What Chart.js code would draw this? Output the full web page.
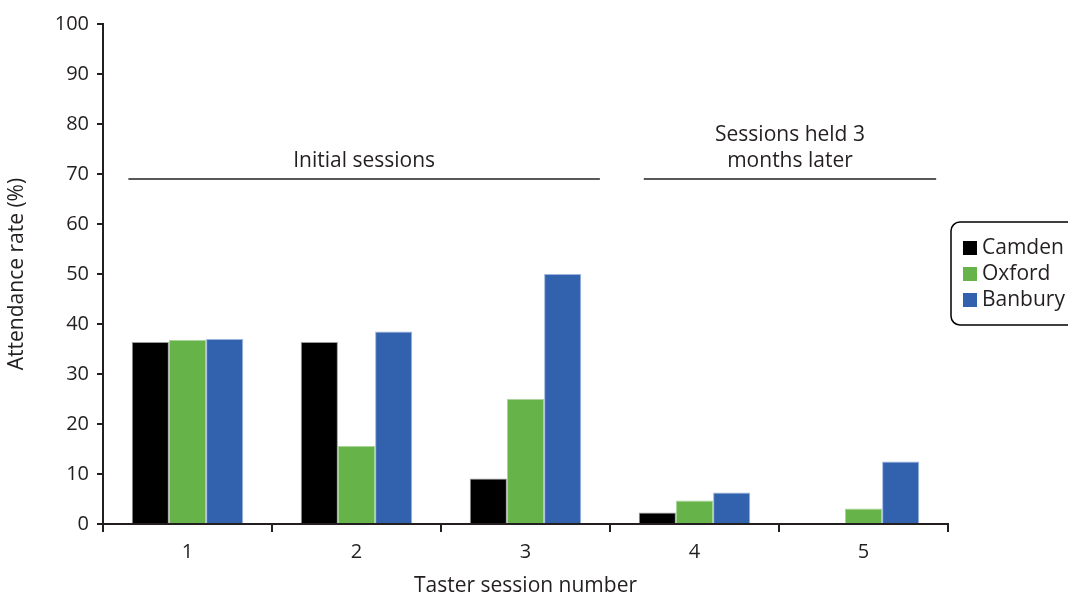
<!DOCTYPE html>
<html>
<head>
<meta charset="utf-8">
<script src="https://cdn.jsdelivr.net/npm/chart.js@4"></script>
<style>
  html, body { margin: 0; padding: 0; background: #fff; }
  #wrap { width: 1068px; height: 594px; position: relative; }
</style>
</head>
<body>
<div id="wrap"><canvas id="attendanceChart" width="1068" height="594"></canvas></div>
<script>
const sessions = ["1", "2", "3", "4", "5"];
const camden = [36.4, 36.4, 9.1, 2.3, 0];
const oxford = [36.8, 15.6, 25.0, 4.7, 3.1];
const banbury = [37.0, 38.5, 50.0, 6.3, 12.5];
const yTicks = [0, 10, 20, 30, 40, 50, 60, 70, 80, 90, 100];

// group brackets: [from index, to index, label lines]
const groups = [
    { from: -0.35, to: 2.44, label: ["Initial sessions"] },
    { from: 2.70, to: 4.43, label: ["Sessions held 3", "months later"] }
];
const groupLineValue = 69;

const inkColor = "#231f20";
const fontFamily = "'Open Sans', 'Noto Sans', sans-serif";

const groupPlugin = {
    id: "groups",
    afterDatasetsDraw(chart) {
        const ctx = chart.ctx;
        const x = chart.scales.x;
        const y = chart.scales.y;
        const step = x.getPixelForValue(1) - x.getPixelForValue(0);
        const base = x.getPixelForValue(0);
        const lineY = y.getPixelForValue(groupLineValue);
        ctx.save();
        ctx.strokeStyle = inkColor;
        ctx.fillStyle = inkColor;
        ctx.lineWidth = 1.5;
        ctx.font = "21px " + fontFamily;
        ctx.textAlign = "center";
        ctx.textBaseline = "alphabetic";
        groups.forEach((g) => {
            const x1 = base + g.from * step;
            const x2 = base + g.to * step;
            ctx.beginPath();
            ctx.moveTo(x1, lineY);
            ctx.lineTo(x2, lineY);
            ctx.stroke();
            const cx = (x1 + x2) / 2;
            const n = g.label.length;
            g.label.forEach((line, i) => {
                ctx.fillText(line, cx, lineY - 12 - (n - 1 - i) * 26);
            });
        });
        ctx.restore();
    }
};

const legendPlugin = {
    id: "boxLegend",
    afterDraw(chart) {
        const ctx = chart.ctx;
        const left = chart.chartArea.right + 3;
        const top = 222;
        ctx.save();
        ctx.strokeStyle = "#000";
        ctx.lineWidth = 1.5;
        const w = 140, h = 103, r = 9;
        ctx.beginPath();
        ctx.roundRect(left, top, w, h, r);
        ctx.stroke();
        ctx.font = "21px " + fontFamily;
        ctx.textBaseline = "middle";
        ctx.textAlign = "left";
        chart.data.datasets.forEach((ds, i) => {
            const rowY = top + 26 + i * 26;
            ctx.fillStyle = ds.backgroundColor;
            ctx.fillRect(left + 12, rowY - 7, 14, 14);
            ctx.fillStyle = inkColor;
            ctx.fillText(ds.label, left + 31, rowY);
        });
        ctx.restore();
    }
};

const ctx = document.getElementById("attendanceChart").getContext("2d");
new Chart(ctx, {
    type: "bar",
    data: {
        labels: sessions,
        datasets: [
            { label: "Camden", data: camden, backgroundColor: "#000000", borderColor: "#9a9a9a", borderWidth: { top: 1, left: 1, right: 1, bottom: 0 } },
            { label: "Oxford", data: oxford, backgroundColor: "#66b34a", borderColor: "#a9d59a", borderWidth: { top: 1, left: 1, right: 1, bottom: 0 } },
            { label: "Banbury", data: banbury, backgroundColor: "#3262ae", borderColor: "#9fb6dc", borderWidth: { top: 1, left: 1, right: 1, bottom: 0 } }
        ]
    },
    options: {
        responsive: false,
        animation: false,
        devicePixelRatio: 1,
        layout: { padding: { top: 24, right: 120, left: 0, bottom: 0 } },
        datasets: { bar: { categoryPercentage: 0.66, barPercentage: 1.0 } },
        plugins: {
            legend: { display: false },
            tooltip: { enabled: false }
        },
        scales: {
            x: {
                grid: { offset: true, drawOnChartArea: false, drawTicks: true, tickLength: 8, color: inkColor, lineWidth: 2 },
                border: { display: true, color: inkColor, width: 2 },
                ticks: { color: inkColor, font: { family: fontFamily, size: 20 }, padding: 8 },
                title: { display: true, text: "Taster session number", color: inkColor, font: { family: fontFamily, size: 21 }, padding: { top: 4, bottom: -5 } },
                afterFit(scale) { scale.height = 70; }
            },
            y: {
                min: 0,
                max: 100,
                afterBuildTicks(scale) { scale.ticks = yTicks.map((v) => ({ value: v })); },
                grid: { drawOnChartArea: false, drawTicks: true, tickLength: 6, color: inkColor, lineWidth: 2 },
                border: { display: true, color: inkColor, width: 2 },
                ticks: { color: inkColor, font: { family: fontFamily, size: 20 }, padding: 8 },
                title: { display: true, text: "Attendance rate (%)", color: inkColor, font: { family: fontFamily, size: 21 }, padding: { top: 4, bottom: 2 } },
                afterFit(scale) { scale.width = 103; }
            }
        }
    },
    plugins: [groupPlugin, legendPlugin]
});
</script>
</body>
</html>
